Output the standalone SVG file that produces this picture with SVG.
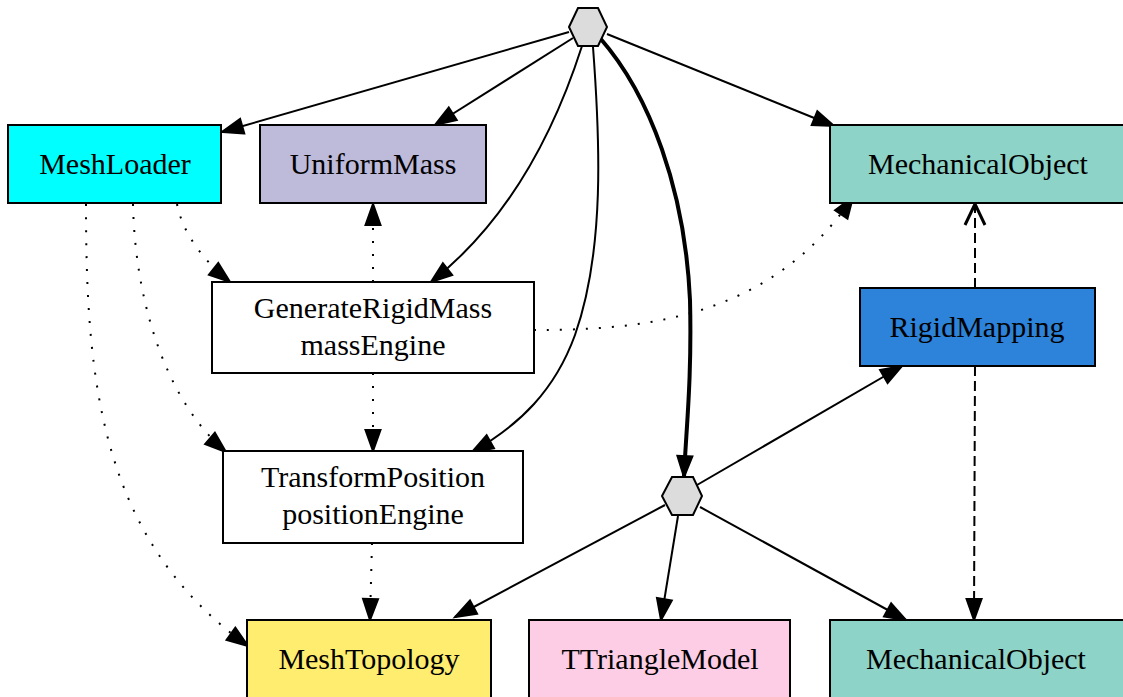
<svg xmlns="http://www.w3.org/2000/svg" width="1123" height="697" viewBox="0 0 1123 697">
<style>
.box{stroke:#000;stroke-width:2}
.t{font-family:"Liberation Serif","Times New Roman",serif;font-size:30px;fill:#000;text-anchor:middle}
.e{fill:none;stroke:#000;stroke-width:2}
.dot{stroke-dasharray:2,11}
.dash{stroke-dasharray:10,5}
.bold{stroke-width:4}
.hex{fill:#dcdcdc;stroke:#000;stroke-width:2}
</style>
<defs>
<marker id="ar" markerUnits="userSpaceOnUse" markerWidth="26" markerHeight="20" viewBox="0 0 26 20" refX="23" refY="10" orient="auto">
<path d="M2,2.5 L23,10 L2,17.5 z" fill="#000" stroke="#000" stroke-width="2"/>
</marker>
<marker id="vee" markerUnits="userSpaceOnUse" markerWidth="28" markerHeight="26" viewBox="0 0 28 26" refX="24" refY="13" orient="auto">
<path d="M3,3 L24,13 L3,23" fill="none" stroke="#000" stroke-width="3"/>
</marker>
</defs>
<rect width="1123" height="697" fill="#fff"/>
<g id="connectors">
<path class="e" d="M569,32 L222,132" marker-end="url(#ar)"/>
<path class="e" d="M573,38 L435,125" marker-end="url(#ar)"/>
<path class="e" d="M582,46 C555,130 510,220 431,282" marker-end="url(#ar)"/>
<path class="e" d="M593,47 C600,140 605,250 575,335 C555,390 520,425 472,452" marker-end="url(#ar)"/>
<path class="e bold" d="M600,38 C650,95 685,190 690,300 C692,380 686,430 684,477" marker-end="url(#ar)"/>
<path class="e" d="M607,34 L834,126" marker-end="url(#ar)"/>
<path class="e dot" d="M177,204 C182,230 200,258 230,282" marker-end="url(#ar)"/>
<path class="e dot" d="M133,204 C135,300 165,400 226,452" marker-end="url(#ar)"/>
<path class="e dot" d="M86,204 C86,380 100,540 248,646" marker-end="url(#ar)"/>
<path class="e dot" d="M373,282 L373,204" marker-end="url(#ar)"/>
<path class="e dot" d="M373,373 L373,451" marker-end="url(#ar)"/>
<path class="e dot" d="M534,330 C640,330 770,320 853,197" marker-end="url(#ar)"/>
<path class="e dot" d="M372,543 L370,620" marker-end="url(#ar)"/>
<path class="e dash" d="M975,288 L975,204" marker-end="url(#vee)"/>
<path class="e dash" d="M975,366 L974,620" marker-end="url(#ar)"/>
<path class="e" d="M697,485 L902,366" marker-end="url(#ar)"/>
<path class="e" d="M665,505 L455,617" marker-end="url(#ar)"/>
<path class="e" d="M678,516 L661,620" marker-end="url(#ar)"/>
<path class="e" d="M700,507 L906,620" marker-end="url(#ar)"/>
</g>
<g id="hexTop"><polygon class="hex" points="569,27 578,8 598,8 607,27 598,46 578,46"/></g>
<g id="hexMid"><polygon class="hex" points="662,496 672,477 693,477 702,496 693,515 672,515"/></g>
<g id="MeshLoader"><rect class="box" x="8" y="125" width="213" height="78" fill="#00ffff"/><text class="t" x="115" y="174">MeshLoader</text></g>
<g id="UniformMass"><rect class="box" x="260" y="125" width="226" height="78" fill="#bebada"/><text class="t" x="373" y="174">UniformMass</text></g>
<g id="MechanicalObjectTop"><rect class="box" x="830" y="125" width="298" height="78" fill="#8dd3c7"/><text class="t" x="978" y="174">MechanicalObject</text></g>
<g id="GenerateRigidMass"><rect class="box" x="212" y="282" width="322" height="91" fill="#fff"/><text class="t" x="373" y="318">GenerateRigidMass</text><text class="t" x="373" y="355">massEngine</text></g>
<g id="RigidMapping"><rect class="box" x="860" y="288" width="235" height="78" fill="#2c83d9"/><text class="t" x="977" y="337">RigidMapping</text></g>
<g id="TransformPosition"><rect class="box" x="223" y="451" width="300" height="92" fill="#fff"/><text class="t" x="373" y="487">TransformPosition</text><text class="t" x="373" y="524">positionEngine</text></g>
<g id="MeshTopology"><rect class="box" x="247" y="620" width="244" height="90" fill="#ffed6f"/><text class="t" x="369" y="669">MeshTopology</text></g>
<g id="TTriangleModel"><rect class="box" x="529" y="620" width="261" height="90" fill="#fccde5"/><text class="t" x="660" y="669">TTriangleModel</text></g>
<g id="MechanicalObjectBottom"><rect class="box" x="830" y="620" width="298" height="90" fill="#8dd3c7"/><text class="t" x="976" y="669">MechanicalObject</text></g>
</svg>
